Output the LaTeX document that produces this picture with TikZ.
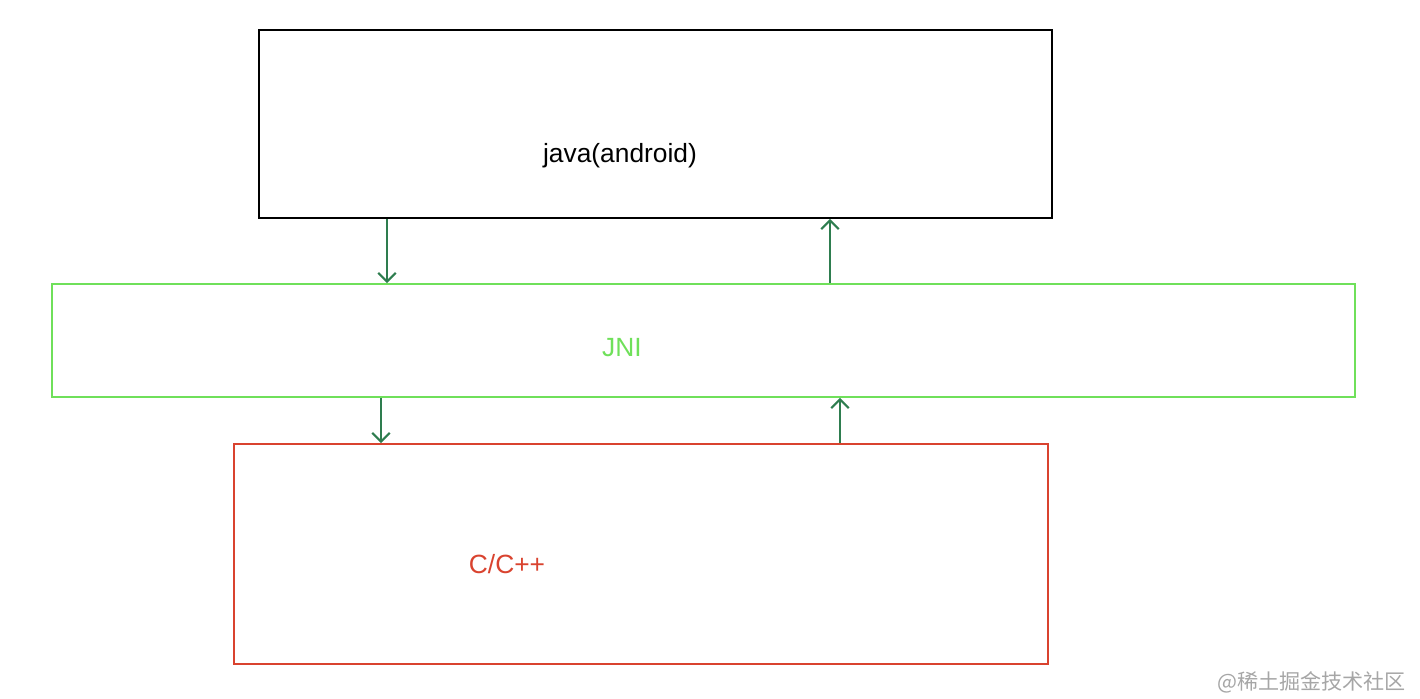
\documentclass[tikz,border=0pt]{standalone}
\usepackage{fontspec}
\setmainfont{Liberation Sans}
\newfontfamily\cjk{Noto Sans CJK SC}
\usetikzlibrary{calc,arrows.meta}
\definecolor{jnigreen}{HTML}{6FE05A}
\definecolor{cred}{HTML}{D9432F}
\definecolor{arrowgreen}{HTML}{2E7D4F}
\begin{document}
\begin{tikzpicture}[
		x=0.02cm, y=-0.02cm,
		layer/.style={draw,line width=1pt,inner sep=0pt},
		link/.style={arrowgreen,line width=1.2pt,-{Straight Barb[length=5pt,width=10pt]}},
		label/.style={font=\fontsize{15}{17}\selectfont}]
		\useasboundingbox (0,0) rectangle (1420,698);
		\node[layer,black,minimum width=15.86cm,minimum height=3.76cm] (java) at (655.5,124) {};
		\node[layer,jnigreen,minimum width=26.06cm,minimum height=2.26cm] (jni) at (703.5,340.5) {};
		\node[layer,cred,minimum width=16.28cm,minimum height=4.4cm] (cpp) at (641,554) {};
		\node[label] (javatext) at (620,156) {java(android)};
		\node[label,jnigreen] (jnitext) at (622,348) {JNI};
		\node[label,cred] (cpptext) at (507,564) {C/C++};
		\node[gray!70,font=\cjk\fontsize{12}{14}\selectfont,anchor=east] (mark) at (1412,682) {@稀土掘金技术社区};
		\coordinate (a1) at (java.south -| 387,0);
		\coordinate (a2) at (jni.north -| 387,0);
		\coordinate (b1) at (jni.north -| 830,0);
		\coordinate (b2) at (java.south -| 830,0);
		\coordinate (c1) at (jni.south -| 381,0);
		\coordinate (c2) at (cpp.north -| 381,0);
		\coordinate (d1) at (cpp.north -| 840,0);
		\coordinate (d2) at (jni.south -| 840,0);
		\draw[link] (a1) -- (a2);
		\draw[link] (b1) -- (b2);
		\draw[link] (c1) -- (c2);
		\draw[link] (d1) -- (d2);
\end{tikzpicture}
\end{document}
